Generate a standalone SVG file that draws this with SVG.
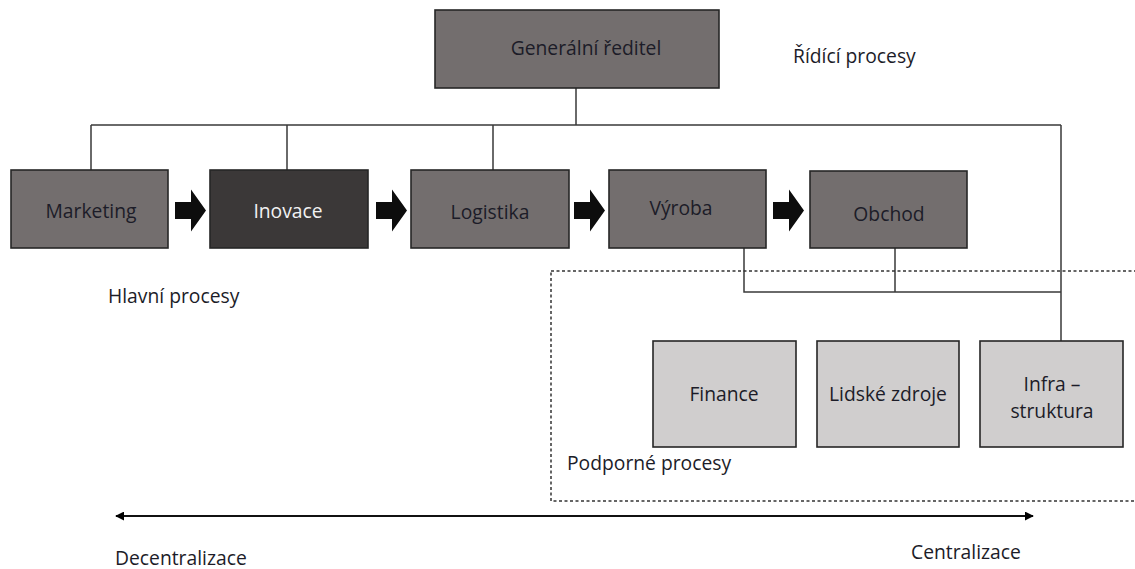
<svg xmlns="http://www.w3.org/2000/svg" width="1135" height="569" viewBox="0 0 1135 569">
  <style>
    text { font-family: "Open Sans", "Liberation Sans", sans-serif; font-size: 19.3px; fill: #1c1c28; }
    .c { text-anchor: middle; }
    .box { stroke: #262626; stroke-width: 1.6; }
    .main { fill: #736e6e; }
    .dark { fill: #3b3838; }
    .support { fill: #d0cece; }
    .wire { fill: none; stroke: #3a3a3a; stroke-width: 1.5; }
    .flow { fill: #0d0d0d; }
  </style>
  <defs>
    <marker id="tip" viewBox="0 0 10 10" refX="9" refY="5" markerWidth="9" markerHeight="9" markerUnits="userSpaceOnUse" orient="auto-start-reverse">
      <path d="M0,0 L10,5 L0,10 Z" fill="#000"/>
    </marker>
    <path id="blockArrow" d="M0,-8.5 H16 V-21 L31,0 L16,21 V8.5 H0 Z"/>
  </defs>

  <!-- connectors -->
  <g id="connectors">
    <path class="wire" d="M576,88 V125 M91,125 H1061 M91,125 V170 M287,125 V170 M493,125 V170 M1061,125 V341"/>
    <path class="wire" d="M744,248 V292 H1061 M895,248 V292"/>
    <rect x="551" y="271" width="600" height="230" fill="none" stroke="#333" stroke-width="1.5" stroke-dasharray="3,2.5"/>
    <line x1="116" y1="516" x2="1033" y2="516" stroke="#111" stroke-width="2" marker-start="url(#tip)" marker-end="url(#tip)"/>
    <use href="#blockArrow" class="flow" x="175" y="210.5"/>
    <use href="#blockArrow" class="flow" x="376" y="210.5"/>
    <use href="#blockArrow" class="flow" x="574" y="210.5"/>
    <use href="#blockArrow" class="flow" x="773" y="210.5"/>
  </g>

  <g id="ceo">
    <rect class="box main" x="435" y="10" width="284" height="78"/>
    <text class="c" x="586" y="55">Generální ředitel</text>
  </g>

  <g id="marketing">
    <rect class="box main" x="11" y="170" width="157" height="78"/>
    <text class="c" x="91" y="218">Marketing</text>
  </g>
  <g id="inovace">
    <rect class="box dark" x="210" y="170" width="158" height="78"/>
    <text class="c" x="288" y="218" style="fill:#f2f2f2">Inovace</text>
  </g>
  <g id="logistika">
    <rect class="box main" x="411" y="170" width="158" height="78"/>
    <text class="c" x="490" y="219">Logistika</text>
  </g>
  <g id="vyroba">
    <rect class="box main" x="609" y="170" width="157" height="78"/>
    <text class="c" x="681" y="215">Výroba</text>
  </g>
  <g id="obchod">
    <rect class="box main" x="810" y="171" width="157" height="77"/>
    <text class="c" x="889" y="221">Obchod</text>
  </g>

  <g id="finance">
    <rect class="box support" x="653" y="341" width="143" height="106"/>
    <text class="c" x="724" y="401">Finance</text>
  </g>
  <g id="lidske-zdroje">
    <rect class="box support" x="817" y="341" width="142" height="106"/>
    <text class="c" x="888" y="401">Lidské zdroje</text>
  </g>
  <g id="infrastruktura">
    <rect class="box support" x="980" y="341" width="143" height="106"/>
    <text class="c" x="1052" y="391">Infra –</text>
    <text class="c" x="1052" y="418">struktura</text>
  </g>

  <g id="labels">
    <text x="793" y="63">Řídící procesy</text>
    <text x="108" y="303">Hlavní procesy</text>
    <text x="567" y="470">Podporné procesy</text>
    <text x="115" y="565">Decentralizace</text>
    <text x="911" y="559">Centralizace</text>
  </g>
</svg>
